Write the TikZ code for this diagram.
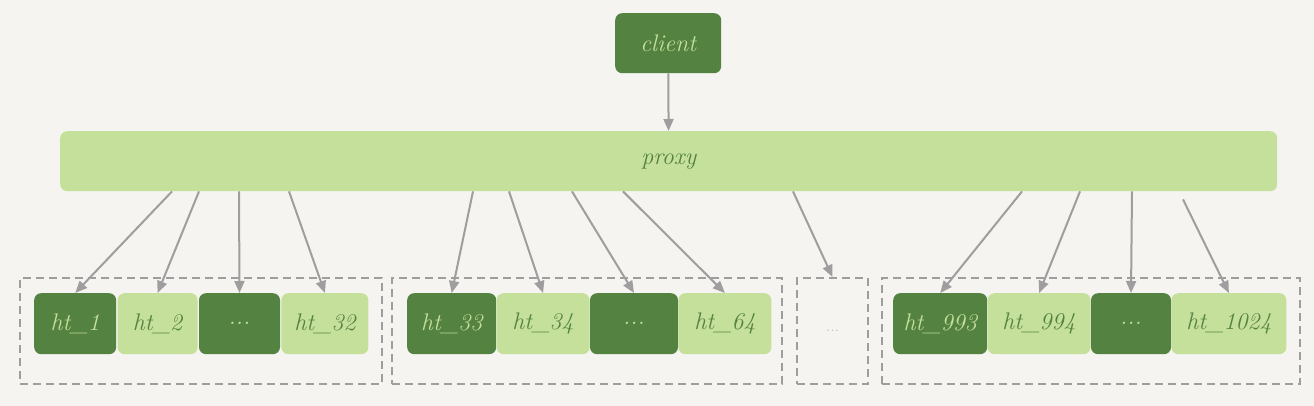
\documentclass[tikz,border=0pt]{standalone}
\usepackage{tikz}
\usetikzlibrary{shapes.geometric, arrows, arrows.meta, positioning}

\definecolor{darkgr}{HTML}{548240}
\definecolor{lightgr}{HTML}{C5E09B}
\definecolor{linegr}{HTML}{9E9E9E}
\definecolor{paper}{HTML}{F5F4F0}

\begin{document}
\begin{tikzpicture}[x=1pt,y=-1pt,font=\fontsize{24}{28}\selectfont\itshape]
\tikzstyle{dark} = [rectangle, rounded corners=7pt, minimum height=61pt, inner sep=0pt, text centered, fill=darkgr, text=lightgr]
\tikzstyle{light} = [rectangle, rounded corners=7pt, minimum height=61pt, inner sep=0pt, text centered, fill=lightgr, text=darkgr]
\tikzstyle{group} = [rectangle, anchor=north west, minimum height=106pt, inner sep=0pt, draw=linegr, line width=2pt, dash pattern=on 8pt off 5pt]
\tikzstyle{arrow} = [line width=2pt, draw=linegr, ->, >={Triangle[length=12pt,width=10pt]}]

\fill[paper] (0,0) rectangle (1314,406);
\useasboundingbox (0,0) rectangle (1314,406);

\node (client) [dark, anchor=north west, minimum width=106pt, minimum height=60pt] at (615,13) {client};
\node (proxy) [light, anchor=north west, minimum width=1217pt, minimum height=60pt] at (60,131) {proxy};

% groups
\node (grp1) [group, minimum width=362pt] at (19,277) {};
\node (grp2) [group, minimum width=390pt] at (391,277) {};
\node (grp3) [group, minimum width=71pt, text=linegr!70, font=\fontsize{18}{20}\selectfont] at (796,277) {...};
\node (grp4) [group, minimum width=418pt] at (881,277) {};

% tables
\node (ht1) [dark, anchor=north west, minimum width=82pt] at (34,293) {ht\_1};
\node (ht2) [light, right=1pt of ht1, minimum width=80pt] {ht\_2};
\node (dots1) [dark, right=1pt of ht2, minimum width=81pt] {...};
\node (ht32) [light, right=1pt of dots1, minimum width=87pt] {ht\_32};

\node (ht33) [dark, anchor=north west, minimum width=89pt] at (407,293) {ht\_33};
\node (ht34) [light, right=0pt of ht33, minimum width=93pt] {ht\_34};
\node (dots2) [dark, right=0pt of ht34, minimum width=88pt] {...};
\node (ht64) [light, right=0pt of dots2, minimum width=93pt] {ht\_64};

\node (ht993) [dark, anchor=north west, minimum width=94pt] at (893,293) {ht\_993};
\node (ht994) [light, right=0pt of ht993, minimum width=103pt] {ht\_994};
\node (dots4) [dark, right=0pt of ht994, minimum width=80pt] {...};
\node (ht1024) [light, right=0pt of dots4, minimum width=115pt] {ht\_1024};

\draw [arrow] (client) -- (proxy);

\draw [arrow] ([xshift=112pt]proxy.south west) -- (ht1.north);
\draw [arrow] ([xshift=139pt]proxy.south west) -- (ht2.north);
\draw [arrow] ([xshift=179pt]proxy.south west) -- (dots1.north);
\draw [arrow] ([xshift=229pt]proxy.south west) -- (ht32.north);

\draw [arrow] ([xshift=413pt]proxy.south west) -- (ht33.north);
\draw [arrow] ([xshift=449pt]proxy.south west) -- (ht34.north);
\draw [arrow] ([xshift=512pt]proxy.south west) -- (dots2.north);
\draw [arrow] ([xshift=563pt]proxy.south west) -- (ht64.north);

\draw [arrow] ([xshift=733pt]proxy.south west) -- (grp3.north);

\draw [arrow] ([xshift=962pt]proxy.south west) -- (ht993.north);
\draw [arrow] ([xshift=1020pt]proxy.south west) -- (ht994.north);
\draw [arrow] ([xshift=1072pt]proxy.south west) -- (dots4.north);
\draw [arrow] ([xshift=1123pt,yshift=-8pt]proxy.south west) -- (ht1024.north);

\end{tikzpicture}
\end{document}
